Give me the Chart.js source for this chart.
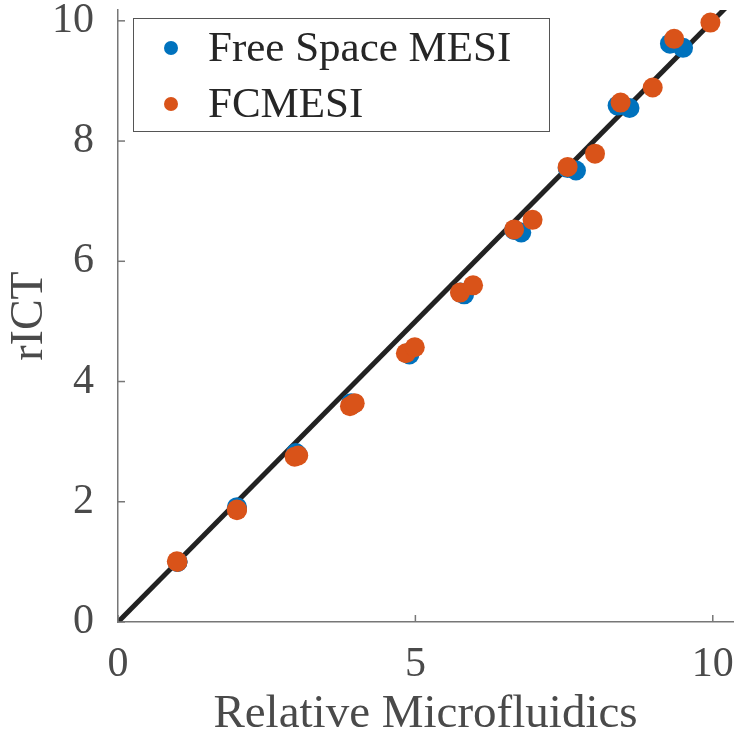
<!DOCTYPE html>
<html>
<head>
<meta charset="utf-8">
<script src="https://cdn.jsdelivr.net/npm/chart.js@4.4.0/dist/chart.umd.min.js"></script>
<style>
  body { margin: 0; background: #fff; }
  canvas { display: block; }
</style>
</head>
<body>
<canvas id="rictChart" width="743" height="743"></canvas>
<script>
// values
var freeSpaceX = [1.00, 1.00, 2.00, 2.00, 2.99, 3.02, 3.92, 3.96, 4.86, 4.90, 5.76, 5.82, 6.66, 6.78, 7.56, 7.70, 8.40, 8.60, 9.28, 9.50];
var freeSpaceY = [1.00, 1.00, 1.91, 1.89, 2.81, 2.78, 3.64, 3.63, 4.47, 4.45, 5.48, 5.45, 6.52, 6.48, 7.55, 7.51, 8.59, 8.55, 9.62, 9.55];

var fcmesiX = [0.99, 1.00, 2.00, 2.00, 2.97, 3.03, 3.90, 3.98, 4.84, 4.99, 5.75, 5.97, 6.66, 6.97, 7.56, 8.02, 8.45, 8.99, 9.35, 9.96];
var fcmesiY = [1.01, 1.00, 1.86, 1.87, 2.75, 2.77, 3.59, 3.64, 4.47, 4.57, 5.48, 5.60, 6.53, 6.69, 7.57, 7.79, 8.64, 8.89, 9.70, 9.97];

var identityX = [0, 10.4];
var identityY = [0, 10.4];

var xTicks = [0, 5, 10];
var yTicks = [0, 2, 4, 6, 8, 10];

var seriesLabels = ['Free Space MESI', 'FCMESI'];

function toPoints(xs, ys) {
    return xs.map(function(x, i) { return { x: x, y: ys[i] }; });
}

var serif = '"Liberation Serif", "Times New Roman", serif';
var textGray = '#4a4a4a';
var axisGray = '#777777';

// MATLAB style inward ticks
var inwardTicks = {
    id: 'inwardTicks',
    afterDraw: function(chart) {
        var ctx = chart.ctx;
        var area = chart.chartArea;
        ctx.save();
        ctx.strokeStyle = axisGray;
        ctx.lineWidth = 1.5;
        chart.scales.x.ticks.forEach(function(t) {
            var px = chart.scales.x.getPixelForValue(t.value);
            ctx.beginPath();
            ctx.moveTo(px, area.bottom);
            ctx.lineTo(px, area.bottom - 7);
            ctx.stroke();
        });
        chart.scales.y.ticks.forEach(function(t) {
            var py = chart.scales.y.getPixelForValue(t.value);
            ctx.beginPath();
            ctx.moveTo(area.left, py);
            ctx.lineTo(area.left + 7, py);
            ctx.stroke();
        });
        ctx.restore();
    }
};

// boxed legend in the upper left like the original
var boxLegend = {
    id: 'boxLegend',
    afterDraw: function(chart) {
        var ctx = chart.ctx;
        ctx.save();
        ctx.fillStyle = '#ffffff';
        ctx.fillRect(133, 18, 416, 113);
        ctx.strokeStyle = '#555555';
        ctx.lineWidth = 1;
        ctx.strokeRect(133.5, 18.5, 416, 113);
        ctx.font = '43px ' + serif;
        ctx.textBaseline = 'middle';
        seriesLabels.forEach(function(label, i) {
            var ds = chart.data.datasets[i];
            var cy = 48 + i * 56;
            ctx.fillStyle = ds.backgroundColor;
            ctx.beginPath();
            ctx.arc(171, cy, 7, 0, Math.PI * 2);
            ctx.fill();
            ctx.fillStyle = '#262626';
            ctx.fillText(label, 208, cy + 2);
        });
        ctx.restore();
    }
};

var rictChart = new Chart(document.getElementById('rictChart'), {
    type: 'scatter',
    data: {
        datasets: [{
            label: seriesLabels[0],
            data: toPoints(freeSpaceX, freeSpaceY),
            backgroundColor: '#0072BD',
            borderWidth: 0,
            pointRadius: 10,
            order: 1
        },
        {
            label: seriesLabels[1],
            data: toPoints(fcmesiX, fcmesiY),
            backgroundColor: '#D95319',
            borderWidth: 0,
            pointRadius: 10,
            order: 0
        },
        {
            type: 'line',
            label: 'identity',
            data: toPoints(identityX, identityY),
            borderColor: '#222222',
            borderWidth: 5,
            pointRadius: 0,
            clip: 0,
            order: 2
        }]
    },
    options: {
        responsive: false,
        animation: false,
        layout: { padding: { top: 8, right: 10, left: 0, bottom: 0 } },
        plugins: {
            legend: { display: false },
            tooltip: { enabled: false }
        },
        scales: {
            x: {
                type: 'linear',
                min: 0,
                max: 10.34,
                afterBuildTicks: function(axis) {
                    axis.ticks = xTicks.map(function(v) { return { value: v }; });
                },
                afterFit: function(axis) {
                    axis.height = 121;
                    axis.paddingLeft = 0;
                    axis.paddingRight = 0;
                },
                grid: { display: false },
                border: { display: true, color: axisGray, width: 1.5 },
                ticks: {
                    font: { family: serif, size: 42 },
                    color: textGray,
                    padding: 10,
                    maxRotation: 0
                },
                title: {
                    display: true,
                    text: 'Relative Microfluidics',
                    font: { family: serif, size: 47 },
                    color: textGray,
                    padding: 0
                }
            },
            y: {
                type: 'linear',
                min: 0,
                max: 10.18,
                afterBuildTicks: function(axis) {
                    axis.ticks = yTicks.map(function(v) { return { value: v }; });
                },
                afterFit: function(axis) {
                    axis.width = 118;
                    axis.paddingTop = 0;
                    axis.paddingBottom = 0;
                },
                grid: { display: false },
                border: { display: true, color: axisGray, width: 1.5 },
                ticks: {
                    font: { family: serif, size: 42 },
                    color: textGray,
                    padding: 16
                },
                title: {
                    display: true,
                    text: 'rICT',
                    font: { family: serif, size: 46 },
                    color: textGray,
                    padding: 2
                }
            }
        }
    },
    plugins: [inwardTicks, boxLegend]
});
</script>
</body>
</html>
